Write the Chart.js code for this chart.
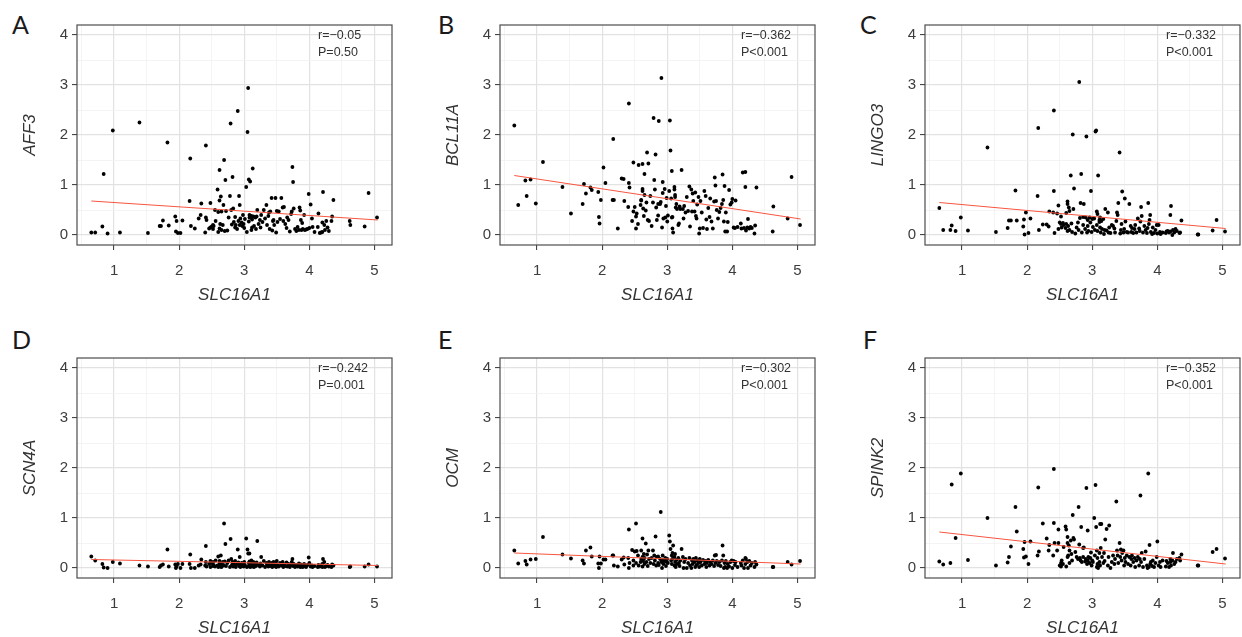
<!DOCTYPE html>
<html>
<head>
<meta charset="utf-8">
<title>SLC16A1 correlation panels</title>
<script src="https://cdn.jsdelivr.net/npm/chart.js"></script>
<style>
  html, body { margin: 0; padding: 0; background: #fff; }
  body { width: 1242px; height: 637px; position: relative; overflow: hidden; }
  canvas { position: absolute; display: block; }
  .tag { position: absolute; font-family: Lato, "Open Sans", sans-serif; font-size: 25px; line-height: 1; color: #1a1a1a; }
</style>
</head>
<body>

<div class="tag" style="left:12px; top:12px;">A</div>
<div class="tag" style="left:438px; top:12px;">B</div>
<div class="tag" style="left:860px; top:12px;">C</div>
<div class="tag" style="left:12px; top:327px;">D</div>
<div class="tag" style="left:438px; top:327px;">E</div>
<div class="tag" style="left:863px; top:327px;">F</div>

<canvas id="chartA" width="396" height="312" style="left:0px; top:0px;"></canvas>
<canvas id="chartB" width="396" height="312" style="left:423px; top:0px;"></canvas>
<canvas id="chartC" width="396" height="312" style="left:848px; top:0px;"></canvas>
<canvas id="chartD" width="396" height="312" style="left:0px; top:333px;"></canvas>
<canvas id="chartE" width="396" height="312" style="left:423px; top:333px;"></canvas>
<canvas id="chartF" width="396" height="312" style="left:848px; top:333px;"></canvas>

<script>
// SLC16A1 expression (shared x for every panel)
const slc16a1 = [
    0.65, 0.71, 0.82, 0.84, 0.90, 0.98, 1.09, 1.39, 1.52, 1.70, 1.72, 1.75, 1.82, 1.84, 1.94, 1.95, 1.96, 1.98, 2.02, 2.05,
    2.16, 2.17, 2.18, 2.24, 2.30, 2.33, 2.34,
    2.40, 2.41, 2.41, 2.42, 2.46, 2.48, 2.48, 2.50, 2.52, 2.52,
    2.53, 2.55, 2.56, 2.59, 2.60, 2.60, 2.62, 2.62, 2.62, 2.63,
    2.64, 2.65, 2.65, 2.67, 2.68, 2.69, 2.70, 2.71, 2.72, 2.74,
    2.76, 2.78, 2.79, 2.80, 2.81, 2.82, 2.83, 2.84, 2.86, 2.86,
    2.87, 2.89, 2.90, 2.91, 2.92, 2.93, 2.93, 2.94, 2.96, 2.97,
    2.98, 2.99, 3.00, 3.01, 3.03, 3.04, 3.05, 3.06, 3.07, 3.07,
    3.08, 3.08, 3.09, 3.11, 3.11, 3.12, 3.12, 3.13, 3.14, 3.15,
    3.17, 3.18, 3.19, 3.20, 3.22, 3.24, 3.25, 3.26, 3.28, 3.30,
    3.32, 3.34, 3.35, 3.37, 3.38, 3.39, 3.40, 3.42, 3.43, 3.44,
    3.45, 3.46, 3.48, 3.49, 3.50, 3.51, 3.53, 3.55, 3.57, 3.59,
    3.60, 3.61, 3.63, 3.65, 3.66, 3.68, 3.70, 3.72, 3.73, 3.74,
    3.75, 3.76, 3.78, 3.80, 3.82, 3.84, 3.85, 3.86, 3.87, 3.88,
    3.89, 3.90, 3.92, 3.93, 3.95, 3.97, 3.99, 4.00, 4.02, 4.04,
    4.05, 4.08, 4.13, 4.14, 4.16, 4.18, 4.20, 4.20, 4.21, 4.23,
    4.24, 4.26, 4.28, 4.30, 4.34, 4.35, 4.37,
    4.62, 4.63, 4.85, 4.91, 5.04
];

const aff3 = [
    0.05, 0.05, 0.17, 1.22, 0.03, 2.09, 0.05, 2.25, 0.04, 0.18, 0.18, 0.29, 1.85, 0.19, 0.37, 0.07, 0.28, 0.04, 0.04, 0.29,
    0.68, 1.53, 0.18, 0.13, 0.33, 0.40, 0.63,
    0.05, 1.79, 0.35, 0.30, 0.13, 0.64, 0.15, 0.17, 0.20, 0.12,
    0.18, 0.50, 0.28, 0.91, 0.06, 0.46, 1.30, 0.69, 0.13, 0.22,
    0.77, 0.47, 0.10, 0.20, 0.60, 1.50, 0.08, 1.10, 0.48, 0.09,
    0.35, 0.78, 2.23, 0.50, 0.21, 1.16, 0.53, 0.26, 0.15, 0.36,
    0.20, 0.12, 2.48, 0.28, 0.78, 0.20, 0.60, 0.33, 0.25, 0.18,
    0.40, 0.22, 0.14, 0.32, 0.96, 0.06, 2.06, 2.94, 1.11, 0.27,
    0.40, 0.35, 1.07, 0.10, 0.38, 0.15, 0.31, 1.33, 0.37, 0.18,
    0.35, 0.12, 0.37, 0.50, 0.22, 0.30, 0.15, 0.40, 0.26, 0.50,
    0.33, 0.60, 0.20, 0.38, 0.45, 0.12, 0.47, 0.74, 0.09, 0.28,
    0.30, 0.20, 0.74, 0.05, 0.48, 0.26, 0.47, 0.32, 0.74, 0.55,
    0.28, 0.56, 0.22, 0.14, 0.35, 0.30, 0.07, 0.42, 0.47, 1.36,
    1.06, 0.53, 0.12, 0.08, 0.16, 0.10, 0.55, 0.49, 0.30, 0.10,
    0.24, 0.12, 0.40, 0.10, 0.11, 0.12, 0.82, 0.14, 0.61, 0.33,
    0.16, 0.06, 0.16, 0.43, 0.04, 0.05, 0.06, 0.25, 0.86, 0.20,
    0.10, 0.28, 0.15, 0.08, 0.28, 0.37, 0.70,
    0.28, 0.20, 0.17, 0.84, 0.35
];

const bcl11a = [
    2.19, 0.60, 1.09, 0.78, 1.11, 0.63, 1.46, 0.96, 0.43, 0.62, 1.02, 0.83, 0.95, 0.90, 0.86, 0.36, 0.23, 0.70, 1.35, 1.04,
    0.70, 1.92, 0.70, 0.13, 1.13, 1.12, 0.68,
    0.56, 2.63, 1.04, 0.95, 0.28, 1.45, 0.47, 0.56, 0.37, 0.13,
    0.43, 0.22, 1.40, 0.60, 0.70, 0.69, 0.92, 1.42, 0.88, 0.53,
    0.38, 1.22, 0.80, 0.49, 0.65, 1.65, 0.30, 1.43, 0.28, 0.78,
    0.18, 0.65, 2.34, 1.10, 0.91, 1.61, 0.55, 0.30, 0.39, 0.62,
    2.28, 0.62, 0.66, 3.14, 0.15, 1.06, 0.84, 0.33, 0.92, 0.35,
    0.58, 0.74, 0.27, 0.39, 0.88, 2.29, 1.69, 0.73, 0.35, 1.28,
    0.13, 0.36, 0.05, 0.96, 0.91, 0.80, 0.76, 0.55, 0.62, 0.52,
    0.20, 0.23, 0.57, 0.52, 1.30, 0.52, 0.33, 0.58, 0.45, 0.76,
    0.48, 0.97, 0.17, 0.91, 0.47, 0.83, 0.68, 0.47, 0.85, 0.38,
    0.33, 0.61, 0.76, 0.03, 0.13, 0.68, 0.45, 0.14, 0.88, 0.78,
    0.31, 0.12, 0.54, 0.36, 0.73, 0.27, 0.13, 0.67, 1.15, 0.99,
    0.68, 0.50, 0.33, 0.46, 0.54, 0.62, 1.21, 0.70, 0.27, 0.98,
    0.07, 0.45, 0.07, 0.26, 0.90, 0.61, 0.65, 0.72, 0.15, 0.14,
    0.69, 0.16, 0.23, 0.13, 1.25, 0.14, 1.26, 0.96, 0.09, 0.15,
    0.32, 0.13, 0.16, 0.14, 0.03, 0.19, 0.95,
    0.07, 0.57, 0.33, 1.16, 0.20
];

const lingo3 = [
    0.54, 0.10, 0.10, 0.19, 0.08, 0.35, 0.09, 1.75, 0.06, 0.14, 0.29, 0.29, 0.89, 0.29, 0.17, 0.31, 0.01, 0.45, 0.04, 0.33,
    0.78, 2.14, 0.10, 0.21, 0.21, 0.17, 0.47,
    0.45, 2.49, 0.88, 0.04, 0.43, 0.59, 0.12, 0.25, 0.22, 0.37,
    0.15, 0.24, 0.20, 0.14, 0.44, 0.22, 0.67, 0.62, 0.08, 0.18,
    0.55, 0.10, 0.48, 1.19, 0.23, 0.06, 2.01, 0.52, 0.93, 0.03,
    0.15, 0.25, 0.10, 3.06, 0.34, 0.64, 1.22, 0.05, 0.36, 0.20,
    0.62, 0.12, 0.35, 1.97, 0.05, 0.30, 0.18, 0.08, 0.35, 0.25,
    0.88, 0.06, 0.32, 0.16, 0.33, 0.10, 2.07, 2.09, 0.47, 0.20,
    0.42, 0.08, 1.19, 0.30, 0.26, 0.15, 0.35, 0.05, 0.28, 0.12,
    0.32, 0.02, 0.10, 0.52, 0.09, 0.45, 0.05, 0.15, 0.04, 0.20,
    0.18, 0.13, 0.05, 0.28, 0.45, 0.40, 0.64, 1.65, 0.03, 0.10,
    0.22, 0.87, 0.05, 0.12, 0.73, 0.27, 0.06, 0.05, 0.62, 0.18,
    0.06, 0.14, 0.04, 0.12, 0.20, 0.05, 0.33, 0.13, 0.08, 0.27,
    0.56, 0.38, 0.05, 0.18, 0.10, 0.04, 0.14, 0.64, 0.22, 0.30,
    0.40, 0.06, 0.02, 0.15, 0.04, 0.10, 0.20, 0.03, 0.20, 0.06,
    0.02, 0.05, 0.04, 0.07, 0.08, 0.05, 0.07, 0.40, 0.58, 0.00,
    0.10, 0.05, 0.12, 0.08, 0.04, 0.05, 0.29,
    0.01, 0.01, 0.09, 0.30, 0.07
];

const scn4a = [
    0.23, 0.15, 0.08, 0.01, 0.00, 0.12, 0.09, 0.05, 0.03, 0.02, 0.05, 0.07, 0.37, 0.03, 0.07, 0.00, 0.03, 0.08, 0.00, 0.08,
    0.08, 0.27, 0.00, 0.00, 0.05, 0.07, 0.17,
    0.05, 0.44, 0.12, 0.03, 0.08, 0.14, 0.02, 0.10, 0.04, 0.12,
    0.06, 0.03, 0.15, 0.05, 0.23, 0.02, 0.10, 0.06, 0.14, 0.03,
    0.25, 0.08, 0.02, 0.12, 0.05, 0.89, 0.13, 0.48, 0.04, 0.10,
    0.15, 0.02, 0.58, 0.18, 0.06, 0.12, 0.03, 0.09, 0.05, 0.14,
    0.02, 0.08, 0.37, 0.11, 0.04, 0.22, 0.07, 0.02, 0.10, 0.05,
    0.08, 0.03, 0.12, 0.06, 0.59, 0.02, 0.37, 0.29, 0.10, 0.04,
    0.29, 0.13, 0.02, 0.07, 0.15, 0.03, 0.10, 0.05, 0.12, 0.02,
    0.08, 0.04, 0.11, 0.54, 0.06, 0.03, 0.09, 0.22, 0.05, 0.14,
    0.02, 0.10, 0.06, 0.03, 0.12, 0.08, 0.04, 0.10, 0.02, 0.07,
    0.12, 0.04, 0.09, 0.02, 0.14, 0.06, 0.03, 0.10, 0.05, 0.12,
    0.02, 0.07, 0.04, 0.11, 0.03, 0.08, 0.02, 0.06, 0.12, 0.18,
    0.04, 0.08, 0.02, 0.06, 0.03, 0.09, 0.04, 0.02, 0.07, 0.03,
    0.05, 0.02, 0.08, 0.04, 0.02, 0.06, 0.21, 0.10, 0.03, 0.05,
    0.02, 0.04, 0.02, 0.06, 0.03, 0.05, 0.02, 0.08, 0.18, 0.12,
    0.02, 0.04, 0.06, 0.03, 0.02, 0.07, 0.05,
    0.02, 0.03, 0.03, 0.07, 0.03
];

const ocm = [
    0.35, 0.09, 0.14, 0.07, 0.17, 0.18, 0.62, 0.27, 0.19, 0.15, 0.09, 0.35, 0.41, 0.23, 0.09, 0.00, 0.23, 0.09, 0.17, 0.17,
    0.25, 0.25, 0.05, 0.03, 0.17, 0.21, 0.07,
    0.20, 0.77, 0.00, 0.10, 0.36, 0.05, 0.15, 0.33, 0.89, 0.10,
    0.34, 0.25, 0.05, 0.12, 0.35, 0.18, 0.59, 0.22, 0.03, 0.14,
    0.28, 0.08, 0.20, 0.49, 0.12, 0.27, 0.04, 0.35, 0.18, 0.10,
    0.20, 0.35, 0.08, 0.25, 0.15, 0.63, 0.05, 0.22, 0.23, 0.10,
    0.06, 0.18, 1.12, 0.12, 0.00, 0.16, 0.25, 0.08, 0.14, 0.20,
    0.04, 0.12, 0.18, 0.10, 0.65, 0.53, 0.38, 0.15, 0.25, 0.08,
    0.30, 0.18, 0.45, 0.05, 0.22, 0.12, 0.28, 0.02, 0.16, 0.08,
    0.20, 0.10, 0.04, 0.15, 0.38, 0.22, 0.00, 0.12, 0.18, 0.00,
    0.10, 0.20, 0.05, 0.00, 0.15, 0.08, 0.18, 0.12, 0.02, 0.20,
    0.06, 0.15, 0.10, 0.02, 0.18, 0.12, 0.05, 0.16, 0.08, 0.14,
    0.02, 0.10, 0.16, 0.05, 0.12, 0.08, 0.15, 0.04, 0.25, 0.10,
    0.26, 0.14, 0.06, 0.12, 0.04, 0.15, 0.45, 0.25, 0.00, 0.10,
    0.02, 0.14, 0.00, 0.08, 0.03, 0.12, 0.15, 0.00, 0.14, 0.06,
    0.12, 0.02, 0.10, 0.05, 0.15, 0.00, 0.20, 0.08, 0.18, 0.12,
    0.00, 0.14, 0.05, 0.10, 0.02, 0.12, 0.07,
    0.02, 0.02, 0.12, 0.07, 0.14
];

const spink2 = [
    0.13, 0.07, 0.10, 1.67, 0.60, 1.89, 0.16, 1.00, 0.05, 0.11, 0.22, 0.43, 1.22, 0.73, 0.38, 0.21, 0.52, 0.23, 0.08, 0.53,
    0.25, 1.61, 0.33, 0.89, 0.59, 0.35, 0.46,
    0.25, 1.98, 0.90, 0.50, 0.35, 0.77, 0.50, 0.05, 0.10, 0.03,
    0.15, 0.08, 0.42, 0.83, 0.77, 0.03, 0.62, 0.22, 0.50, 0.25,
    0.45, 0.10, 0.35, 0.55, 0.28, 0.15, 1.06, 0.60, 0.57, 0.32,
    0.22, 0.18, 1.22, 0.47, 0.20, 0.15, 0.82, 0.12, 0.22, 0.40,
    0.41, 0.13, 0.18, 1.60, 0.08, 0.75, 0.15, 0.22, 0.10, 0.20,
    0.31, 0.05, 0.15, 0.12, 1.00, 0.25, 1.66, 0.82, 0.02, 0.35,
    0.08, 0.20, 0.00, 0.30, 0.12, 0.88, 0.05, 0.40, 0.88, 0.22,
    0.10, 0.30, 0.14, 0.57, 0.78, 0.05, 0.22, 0.85, 0.00, 0.12,
    0.25, 0.08, 0.18, 1.33, 0.35, 0.25, 0.10, 0.50, 0.22, 0.37,
    0.15, 0.30, 0.35, 0.05, 0.20, 0.12, 0.25, 0.08, 0.22, 0.05,
    0.18, 0.25, 0.12, 0.20, 0.02, 0.15, 0.22, 0.05, 0.18, 1.45,
    0.12, 0.30, 0.02, 0.18, 0.33, 0.05, 0.00, 1.89, 0.02, 0.46,
    0.08, 0.12, 0.04, 0.15, 0.02, 0.10, 0.22, 0.53, 0.05, 0.12,
    0.02, 0.15, 0.03, 0.14, 0.10, 0.02, 0.12, 0.18, 0.05, 0.15,
    0.30, 0.08, 0.12, 0.18, 0.20, 0.15, 0.27,
    0.05, 0.05, 0.32, 0.38, 0.19
];

// fitted regression line, read at the ends of the x range
const fitX = [0.65, 5.05];
const aff3Fit = [0.68, 0.30];
const bcl11aFit = [1.19, 0.32];
const lingo3Fit = [0.65, 0.13];
const scn4aFit = [0.17, 0.05];
const ocmFit = [0.30, 0.08];
const spink2Fit = [0.72, 0.08];

// correlation labels
const rLabels = ["r=\u22120.05", "r=\u22120.362", "r=\u22120.332", "r=\u22120.242", "r=\u22120.302", "r=\u22120.352"];
const pLabels = ["P=0.50", "P<0.001", "P<0.001", "P=0.001", "P<0.001", "P<0.001"];

// axis ticks (whole numbers get labels, halves are minor grid lines)
const xTicks = [0.5, 1, 1.5, 2, 2.5, 3, 3.5, 4, 4.5, 5];
const yTicks = [0, 0.5, 1, 1.5, 2, 2.5, 3, 3.5, 4];

const FONT = '"Liberation Sans", Arial, sans-serif';
Chart.defaults.font.family = FONT;

const isMajor = (c) => c.tick && Number.isInteger(c.tick.value);

const gridOpts = {
    color: (c) => (isMajor(c) ? "#e2e2e2" : "#f1f1f1"),
    lineWidth: (c) => (isMajor(c) ? 1.2 : 0.8),
    tickColor: (c) => (isMajor(c) ? "#333333" : "rgba(0,0,0,0)"),
    tickLength: 5,
    tickWidth: 1,
    drawTicks: true,
};

// panel border + r / P text in the top right corner
const panelDecor = {
    id: "panelDecor",
    afterDraw(chart, args, opts) {
        const { ctx, chartArea } = chart;
        ctx.save();
        ctx.strokeStyle = "#4d4d4d";
        ctx.lineWidth = 1.2;
        ctx.strokeRect(chartArea.left, chartArea.top, chartArea.right - chartArea.left, chartArea.bottom - chartArea.top);
        ctx.fillStyle = "#333333";
        ctx.font = "12.5px " + FONT;
        ctx.textAlign = "left";
        ctx.textBaseline = "middle";
        ctx.fillText(opts.r, chartArea.right - 74, chartArea.top + 11);
        ctx.fillText(opts.p, chartArea.right - 74, chartArea.top + 28);
        ctx.restore();
    },
};

function makePanel(canvasId, geneName, values, fit, idx) {
    const ctx = document.getElementById(canvasId).getContext("2d");
    return new Chart(ctx, {
        type: "scatter",
        data: {
            datasets: [
                {
                    type: "line",
                    data: fitX.map((x, i) => ({ x: x, y: fit[i] })),
                    borderColor: "#f8553f",
                    borderWidth: 1,
                    pointRadius: 0,
                    fill: false,
                },
                {
                    data: slc16a1.map((x, i) => ({ x: x, y: values[i] })),
                    backgroundColor: "#000000",
                    borderWidth: 0,
                    pointRadius: 1.9,
                },
            ],
        },
        options: {
            responsive: false,
            animation: false,
            events: [],
            layout: { padding: { top: 25, right: 0, bottom: 0, left: 0 } },
            plugins: {
                legend: { display: false },
                tooltip: { enabled: false },
                panelDecor: { r: rLabels[idx], p: pLabels[idx] },
            },
            scales: {
                x: {
                    type: "linear",
                    min: 0.43,
                    max: 5.27,
                    afterBuildTicks: (s) => {
                        s.ticks = xTicks.map((v) => ({ value: v }));
                    },
                    afterFit: (s) => {
                        s.height = 67;
                    },
                    grid: gridOpts,
                    border: { display: false },
                    ticks: {
                        autoSkip: false,
                        maxRotation: 0,
                        padding: 12,
                        color: "#3d3d3d",
                        font: { size: 15 },
                        callback: (v) => (Number.isInteger(v) ? String(v) : ""),
                    },
                    title: {
                        display: true,
                        text: "SLC16A1",
                        color: "#333333",
                        font: { size: 17, style: "italic" },
                        padding: { top: 0, bottom: 7 },
                    },
                },
                y: {
                    type: "linear",
                    min: -0.2,
                    max: 4.2,
                    afterBuildTicks: (s) => {
                        s.ticks = yTicks.map((v) => ({ value: v }));
                    },
                    afterFit: (s) => {
                        s.width = 77;
                    },
                    grid: gridOpts,
                    border: { display: false },
                    ticks: {
                        autoSkip: false,
                        padding: 4,
                        color: "#3d3d3d",
                        font: { size: 15 },
                        callback: (v) => (Number.isInteger(v) ? String(v) : ""),
                    },
                    title: {
                        display: true,
                        text: geneName,
                        color: "#333333",
                        font: { size: 17, style: "italic" },
                        padding: { top: 20, bottom: 0 },
                    },
                },
            },
        },
        plugins: [panelDecor],
    });
}

makePanel("chartA", "AFF3", aff3, aff3Fit, 0);
makePanel("chartB", "BCL11A", bcl11a, bcl11aFit, 1);
makePanel("chartC", "LINGO3", lingo3, lingo3Fit, 2);
makePanel("chartD", "SCN4A", scn4a, scn4aFit, 3);
makePanel("chartE", "OCM", ocm, ocmFit, 4);
makePanel("chartF", "SPINK2", spink2, spink2Fit, 5);
</script>
</body>
</html>
